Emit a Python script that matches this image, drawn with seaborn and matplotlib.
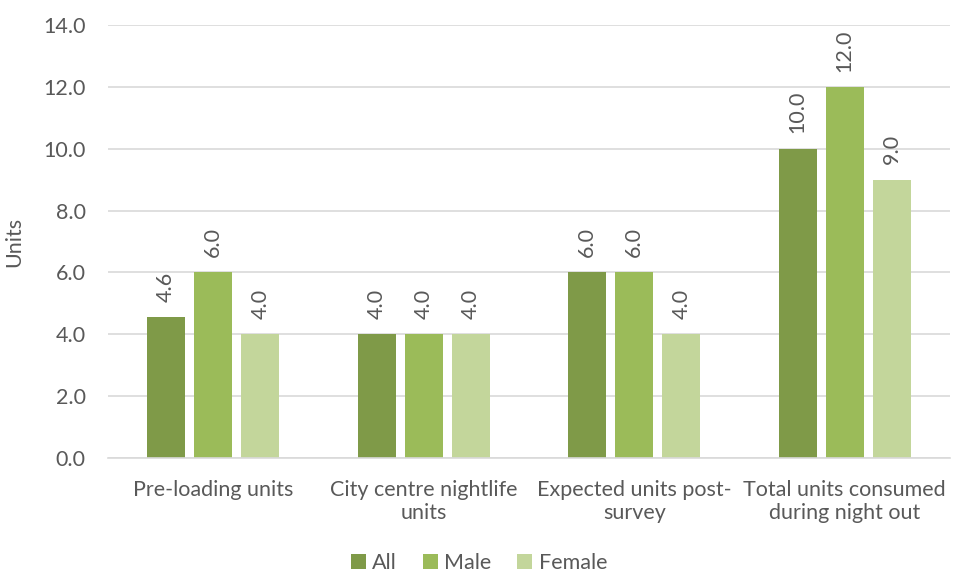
import matplotlib
matplotlib.use("Agg")
import matplotlib.pyplot as plt
import seaborn as sns
import pandas as pd

categories = ["Pre-loading units", "City centre nightlife\nunits",
              "Expected units post-\nsurvey", "Total units consumed\nduring night out"]
groups = ["All", "Male", "Female"]
all_vals = [4.56, 4.0, 6.0, 10.0]
male_vals = [6.0, 4.0, 6.0, 12.0]
female_vals = [4.0, 4.0, 4.0, 9.0]
colors = ["#7F9A48", "#9BBB59", "#C3D69B"]

rows = []
for g, vals in zip(groups, [all_vals, male_vals, female_vals]):
    for c, v in zip(categories, vals):
        rows.append({"category": c, "group": g, "units": v})
df = pd.DataFrame(rows)

sns.set_style("white")
plt.rcParams["font.family"] = ["Lato", "DejaVu Sans"]
text_color = "#595959"
fs = 15.5

fig = plt.figure(figsize=(9.58, 5.77), dpi=100)
ax = fig.add_axes([108 / 958, (577 - 458) / 577, (950 - 108) / 958, (458 - 25) / 577])

sns.barplot(data=df, x="category", y="units", hue="group", palette=colors,
            saturation=1, width=0.67, gap=0.2, linewidth=0, ax=ax, legend=True)

for cont in ax.containers:
    ax.bar_label(cont, fmt="%.1f", rotation=90, padding=11, fontsize=fs, color=text_color)

ax.set_ylim(0, 14)
ax.set_yticks([0, 2, 4, 6, 8, 10, 12, 14])
ax.set_yticklabels([f"{t:.1f}" for t in ax.get_yticks()])
ax.yaxis.grid(True, color="#d9d9d9", linewidth=1.2)
ax.set_axisbelow(True)
for s in ["top", "right", "left"]:
    ax.spines[s].set_visible(False)
ax.spines["bottom"].set_color("#d9d9d9")
ax.spines["bottom"].set_linewidth(1.2)
ax.tick_params(axis="y", length=0, labelsize=fs, colors=text_color, pad=16)
ax.tick_params(axis="x", length=0, labelsize=fs, colors=text_color, pad=16)
ax.set_xlabel("")
ax.set_ylabel("Units", fontsize=fs, color=text_color, labelpad=14)

# legend centred on the whole figure, like the original
handles, labels = ax.get_legend_handles_labels()
ax.get_legend().remove()
fig.legend(handles, labels, loc="lower center", bbox_to_anchor=(0.5, -0.008), ncol=3,
           frameon=False, fontsize=fs, handlelength=0.7, handleheight=0.7,
           handletextpad=0.3, columnspacing=1.2, labelcolor=text_color, borderaxespad=0)

fig.savefig("out.png", dpi=100)
